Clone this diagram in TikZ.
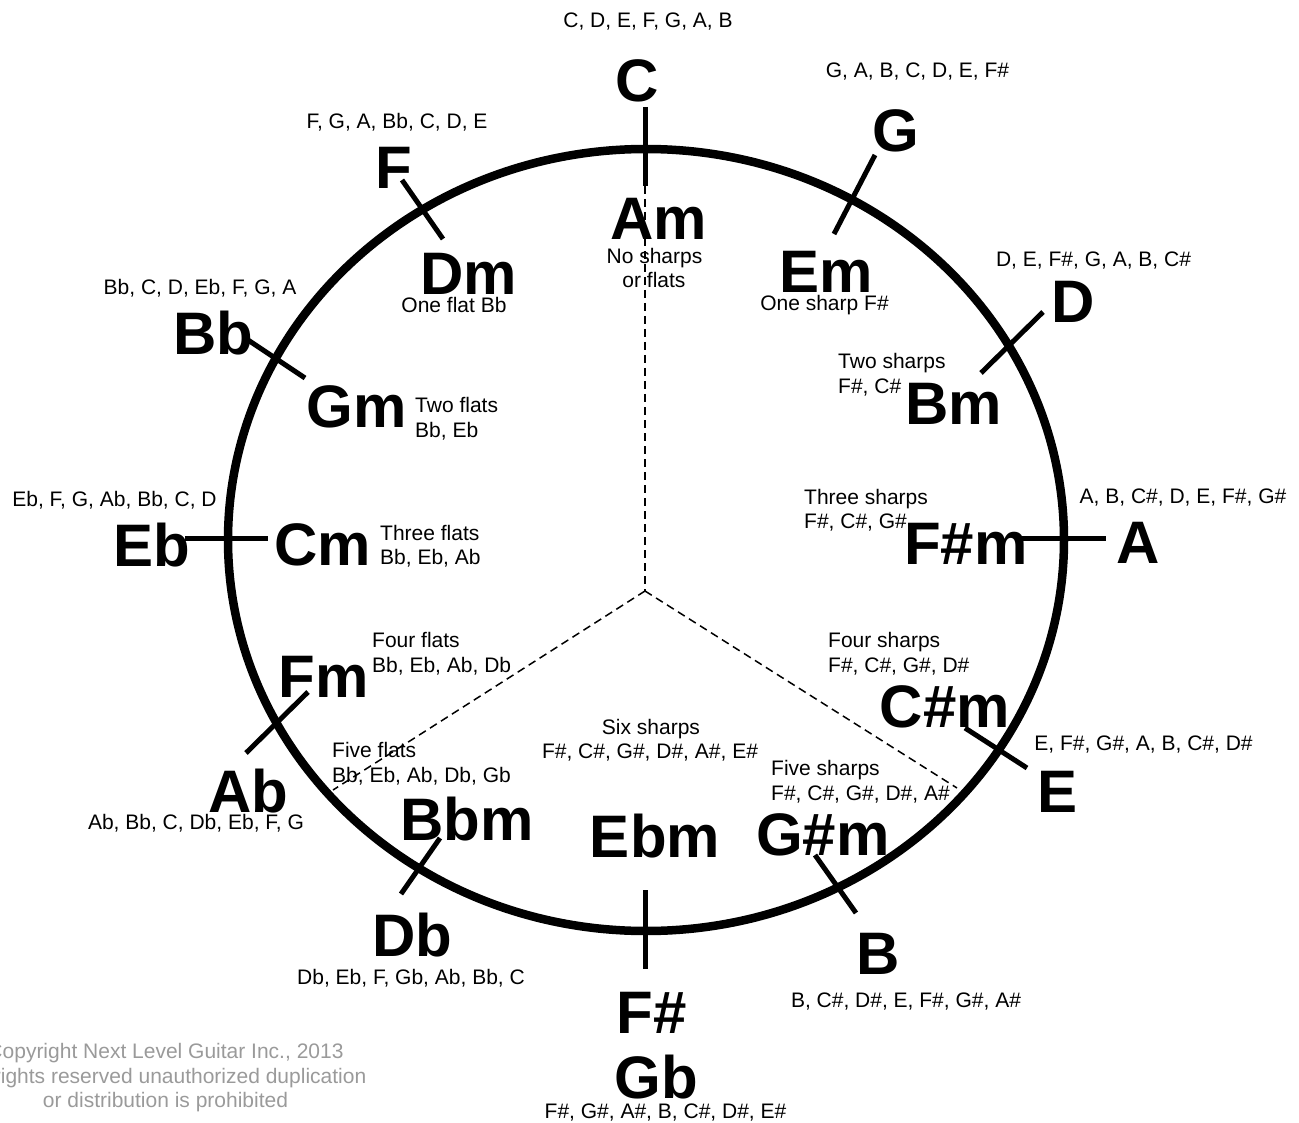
\documentclass[tikz,border=0pt]{standalone}
\usepackage{fontspec}
\setmainfont{Liberation Sans}
\definecolor{cpgray}{HTML}{9A9A9A}
\begin{document}
\begin{tikzpicture}[x=1pt,y=-1pt,
  big/.style={font=\fontsize{60}{60}\selectfont\bfseries, inner sep=0pt, anchor=base},
  lst/.style={font=\fontsize{21}{24}\selectfont, inner sep=0pt, anchor=base},
  desc/.style={lst, anchor=base west},
  tickline/.style={line width=5pt},
  ring/.style={line width=8.5pt},
  divider/.style={line width=1.5pt, dash pattern=on 8pt off 5pt},
  cprt/.style={lst, text=cpgray}]
\useasboundingbox (0,0) rectangle (1299,1123);
\clip (0,0) rectangle (1299,1123);

% ring
\draw[ring] (646,540) ellipse [x radius=418pt, y radius=391pt];

% ticks
\draw[tickline] (645,107) -- (645,186);
\draw[tickline] (645,890) -- (645,969);
\draw[tickline] (185,538) -- (268,538);
\draw[tickline] (1022,538) -- (1106,538);
\draw[tickline] (402,180) -- (443,239);
\draw[tickline] (875,155) -- (834,234);
\draw[tickline] (1043,312) -- (981,373);
\draw[tickline] (248,340) -- (305,378);
\draw[tickline] (308,692) -- (246,753);
\draw[tickline] (965,728) -- (1027,768);
\draw[tickline] (815,855) -- (856,913);
\draw[tickline] (440,838) -- (401,894);

% dividers
\coordinate (hub) at (645,591);
\coordinate (dtop) at (645,186);
\coordinate (dleft) at (333,790);
\coordinate (dright) at (957,788);
\draw[divider] (dtop) -- (hub);
\draw[divider] (hub) -- (dleft);
\draw[divider] (hub) -- (dright);

% major keys and scales
\node[lst] (sC) at (648,28) {C, D, E, F, G, A, B};
\node[big] (kC) at (637.5,102) {C};
\node[lst] (sG) at (917.5,78) {G, A, B, C, D, E, F\#};
\node[big] (kG) at (896,152) {G};
\node[lst] (sD) at (1093.5,267) {D, E, F\#, G, A, B, C\#};
\node[big] (kD) at (1073,323) {D};
\node[lst] (sA) at (1183,503) {A, B, C\#, D, E, F\#, G\#};
\node[big] (kA) at (1138,563) {A};
\node[lst] (sE) at (1143.5,750) {E, F\#, G\#, A, B, C\#, D\#};
\node[big] (kE) at (1057,812) {E};
\node[big] (kB) at (878,974) {B};
\node[lst] (sB) at (906,1007) {B, C\#, D\#, E, F\#, G\#, A\#};
\node[big] (kFs) at (652,1033) {F\#};
\node[big] (kGb) at (656,1098) {Gb};
\node[lst] (sFs) at (665.5,1118) {F\#, G\#, A\#, B, C\#, D\#, E\#};
\node[big] (kDb) at (412,956) {Db};
\node[lst] (sDb) at (411,984) {Db, Eb, F, Gb, Ab, Bb, C};
\node[big] (kAb) at (248,812) {Ab};
\node[lst] (sAb) at (196,829) {Ab, Bb, C, Db, Eb, F, G};
\node[lst] (sEb) at (114.5,506) {Eb, F, G, Ab, Bb, C, D};
\node[big] (kEb) at (152,566) {Eb};
\node[lst] (sBb) at (200,295) {Bb, C, D, Eb, F, G, A};
\node[big] (kBb) at (213.5,355) {Bb};
\node[lst] (sF) at (397,129) {F, G, A, Bb, C, D, E};
\node[big] (kF) at (394,189) {F};

% minor keys
\node[big] (mA) at (658.5,240) {Am};
\node[big] (mE) at (826.5,293) {Em};
\node[big] (mB) at (954,424) {Bm};
\node[big] (mFs) at (966,564) {F\#m};
\node[big] (mCs) at (945,727) {C\#m};
\node[big] (mGs) at (823,855) {G\#m};
\node[big] (mEb) at (655,857) {Ebm};
\node[big] (mBb) at (467,840) {Bbm};
\node[big] (mF) at (323.5,697) {Fm};
\node[big] (mC) at (323,565) {Cm};
\node[big] (mG) at (357,427) {Gm};
\node[big] (mD) at (469,295) {Dm};

% signatures
\node[lst] (dA1) at (654.5,264) {No sharps};
\node[lst] (dA2) at (654,288) {or flats};
\node[lst] (dE) at (824.5,311) {One sharp F\#};
\node[desc] (dB1) at (838,369) {Two sharps};
\node[desc] (dB2) at (838,393) {F\#, C\#};
\node[desc] (dFs1) at (804,504) {Three sharps};
\node[desc] (dFs2) at (804,528) {F\#, C\#, G\#};
\node[desc] (dCs1) at (828,647) {Four sharps};
\node[desc] (dCs2) at (828,672) {F\#, C\#, G\#, D\#};
\node[desc] (dGs1) at (771,775) {Five sharps};
\node[desc] (dGs2) at (771,800) {F\#, C\#, G\#, D\#, A\#};
\node[lst] (dEb1) at (651,734) {Six sharps};
\node[lst] (dEb2) at (650,758) {F\#, C\#, G\#, D\#, A\#, E\#};
\node[desc] (dBb1) at (332,757) {Five flats};
\node[desc] (dBb2) at (332,782) {Bb, Eb, Ab, Db, Gb};
\node[desc] (dF1) at (372,647) {Four flats};
\node[desc] (dF2) at (372,672) {Bb, Eb, Ab, Db};
\node[desc] (dC1) at (380,540) {Three flats};
\node[desc] (dC2) at (380,564) {Bb, Eb, Ab};
\node[desc] (dG1) at (415,413) {Two flats};
\node[desc] (dG2) at (415,437) {Bb, Eb};
\node[lst] (dD) at (454,313) {One flat Bb};

% copyright
\node[cprt] (cp1) at (165.5,1058) {Copyright Next Level Guitar Inc., 2013};
\node[cprt] (cp2) at (165.5,1083) {All rights reserved unauthorized duplication};
\node[cprt] (cp3) at (165.5,1107) {or distribution is prohibited};
\end{tikzpicture}
\end{document}
